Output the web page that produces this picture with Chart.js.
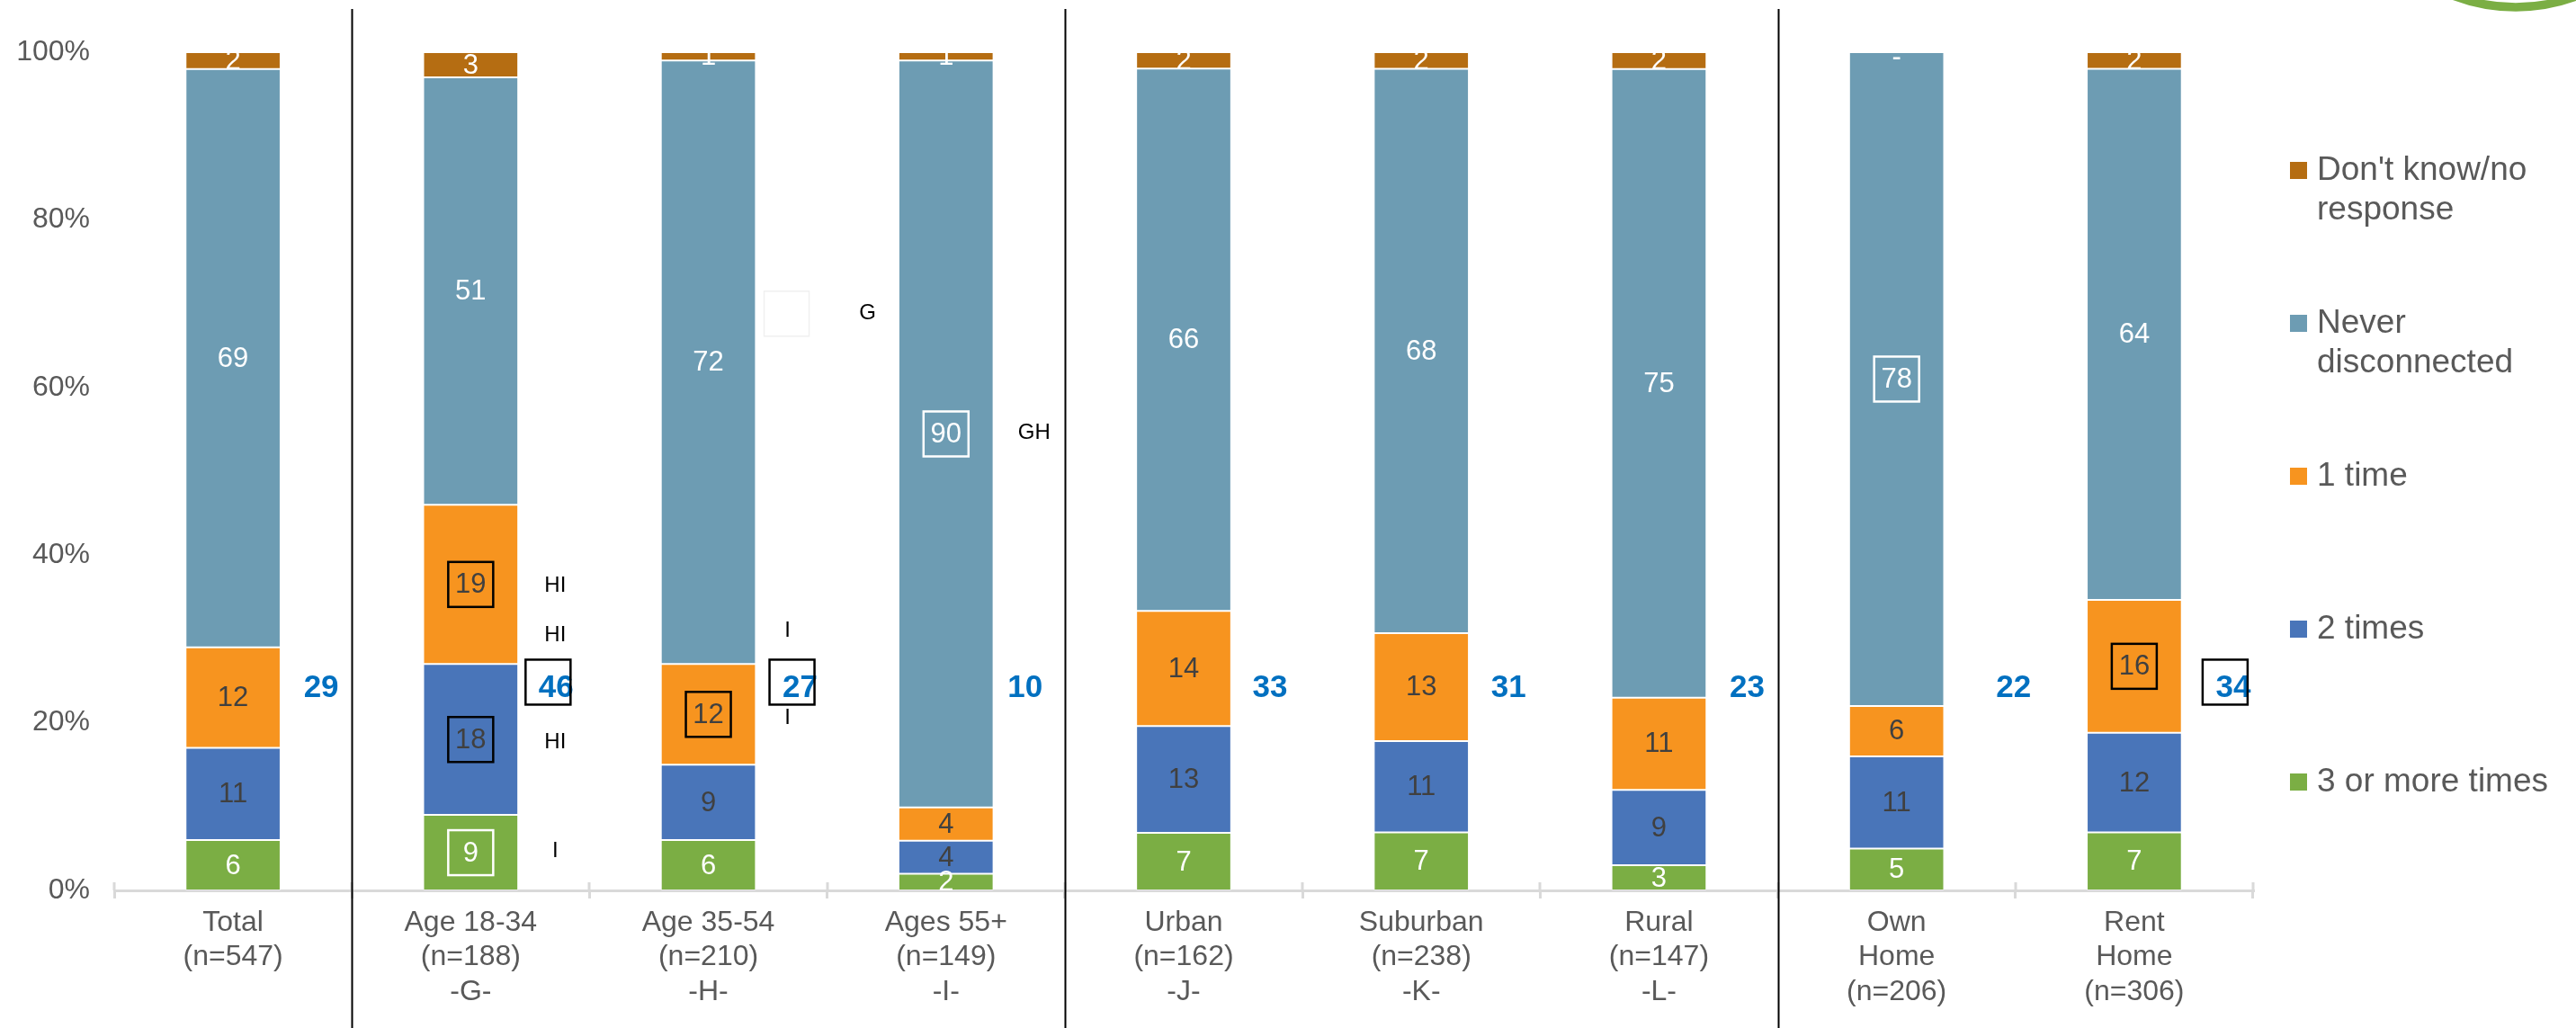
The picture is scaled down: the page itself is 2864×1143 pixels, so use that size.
<!DOCTYPE html>
<html>
<head>
<meta charset="utf-8">
<title>Times disconnected</title>
<script src="https://cdn.jsdelivr.net/npm/chart.js@4.4.1/dist/chart.umd.min.js"></script>
<style>
  html, body { margin: 0; padding: 0; background: #ffffff; }
  canvas { display: block; }
</style>
</head>
<body>
<canvas id="chart" width="2864" height="1143"></canvas>
<script>
// ---- data ---------------------------------------------------------------
const categories = [
  ["Total", "(n=547)"],
  ["Age 18-34", "(n=188)", "-G-"],
  ["Age 35-54", "(n=210)", "-H-"],
  ["Ages 55+", "(n=149)", "-I-"],
  ["Urban", "(n=162)", "-J-"],
  ["Suburban", "(n=238)", "-K-"],
  ["Rural", "(n=147)", "-L-"],
  ["Own", "Home", "(n=206)"],
  ["Rent", "Home", "(n=306)"]
];
const threeOrMore  = [6, 9, 6, 2, 7, 7, 3, 5, 7];
const twoTimes     = [11, 18, 9, 4, 13, 11, 9, 11, 12];
const oneTime      = [12, 19, 12, 4, 14, 13, 11, 6, 16];
const neverDisc    = [69, 51, 72, 90, 66, 68, 75, 78, 64];
const dontKnow     = [2, 3, 1, 1, 2, 2, 2, 0, 2];
const netDisconnected = [29, 46, 27, 10, 33, 31, 23, 22, 34];
const yTicks = [0, 20, 40, 60, 80, 100];

// series, bottom of the stack first
const seriesNames = ["3 or more times", "2 times", "1 time", "Never disconnected", "Don't know/no response"];
const seriesValues = [threeOrMore, twoTimes, oneTime, neverDisc, dontKnow];

// significance markers
const boxedValues = [[1, 2], [1, 1], [1, 0], [2, 2], [3, 3], [7, 3], [8, 2]];   // [category, series]
const boxedNets = [1, 2, 8];
const sigLetters = [                                                               // [category, text, level %]
  [1, "HI", 36.3], [1, "HI", 30.4], [1, "HI", 17.7], [1, "I", 4.7],
  [2, "I", 31.0], [2, "I", 20.6], [2, "G", 68.8], [3, "GH", 54.6]
];

// ---- styling ------------------------------------------------------------
const FONT = '"Liberation Sans", Arial, Helvetica, sans-serif';
const seriesColors = ["#7bae44", "#4975b9", "#f7941f", "#6d9cb3", "#b56d12"];
const labelColors  = ["#ffffff", "#404040", "#404040", "#ffffff", "#ffffff"];
const boxColors    = ["#ffffff", "#000000", "#000000", "#ffffff", "#ffffff"];
const legendOrder  = [4, 3, 2, 1, 0];
const legendLines  = { 4: ["Don't know/no", "response"], 3: ["Never", "disconnected"] };
const netOffsets   = [98, 95, 102, 88, 96, 97, 98, 130, 110];
const netLevel     = 24.2;
const letterOffsets = { 1: 94, 2: 88, 3: 98 };
const letterOffsetG = 177;
const separatorsAfter = [0, 3, 6];

// each column is a 100% stack
const rowTotals = categories.map((_, i) => seriesValues.reduce((s, arr) => s + arr[i], 0));
const datasets = seriesValues.map((vals, d) => ({
  label: seriesNames[d],
  data: vals.map((v, i) => v / rowTotals[i] * 100),
  backgroundColor: seriesColors[d],
  borderColor: "rgba(255,255,255,0.35)",
  borderWidth: 1,
  borderSkipped: false,
  barPercentage: 0.8,
  categoryPercentage: 0.5
}));

// ---- drawing helpers ---------------------------------------------------
const overlay = {
  id: "overlay",
  afterDatasetsDraw(chart) {
    const { ctx, scales: { x, y } } = chart;
    ctx.save();
    ctx.textAlign = "center";
    ctx.textBaseline = "middle";

    // segment values
    ctx.font = "31px " + FONT;
    const centers = {};
    seriesValues.forEach((vals, d) => {
      const meta = chart.getDatasetMeta(d);
      vals.forEach((v, i) => {
        const el = meta.data[i];
        let cy, txt;
        if (v === 0) { cy = el.y + 5; txt = "-"; }
        else { cy = (el.y + el.base) / 2; txt = String(v); }
        centers[i + ":" + d] = [el.x, cy];
        ctx.fillStyle = labelColors[d];
        ctx.fillText(txt, el.x, cy + 1);
      });
    });

    // boxes around significant values
    ctx.lineWidth = 2.5;
    boxedValues.forEach(([i, d]) => {
      const [cx, cy] = centers[i + ":" + d];
      ctx.strokeStyle = boxColors[d];
      ctx.strokeRect(cx - 25, cy - 25, 50, 50);
    });

    // net disconnected totals
    ctx.font = "bold 35px " + FONT;
    ctx.fillStyle = "#0070c0";
    const ny = y.getPixelForValue(netLevel);
    netDisconnected.forEach((v, i) => {
      const nx = x.getPixelForValue(i) + netOffsets[i];
      ctx.fillText(String(v), nx, ny + 1);
      if (boxedNets.includes(i)) {
        ctx.strokeStyle = "#000000";
        ctx.strokeRect(nx - 34, ny - 31, 50, 50);
      }
    });

    // faint placeholder box
    ctx.strokeStyle = "#f0f0f0";
    ctx.lineWidth = 1.5;
    ctx.strokeRect(x.getPixelForValue(2) + 62, y.getPixelForValue(68.8) - 25, 50, 50);

    // significance letters
    ctx.font = "24px " + FONT;
    ctx.fillStyle = "#000000";
    sigLetters.forEach(([i, t, lvl]) => {
      const off = t === "G" ? letterOffsetG : letterOffsets[i];
      ctx.fillText(t, x.getPixelForValue(i) + off, y.getPixelForValue(lvl));
    });
    ctx.restore();
  },
  afterDraw(chart) {
    const { ctx, scales: { x }, chartArea } = chart;
    ctx.save();
    // cross tick marks rising above the category axis
    ctx.strokeStyle = "#d9d9d9";
    ctx.lineWidth = 3;
    const step = (chartArea.right - chartArea.left) / categories.length;
    for (let k = 0; k <= categories.length; k++) {
      const tx = Math.round(chartArea.left + k * step);
      ctx.beginPath();
      ctx.moveTo(tx, chartArea.bottom);
      ctx.lineTo(tx, chartArea.bottom - 9);
      ctx.stroke();
    }
    // group separators
    ctx.strokeStyle = "#000000";
    ctx.lineWidth = 2;
    separatorsAfter.forEach(i => {
      const sx = Math.round((x.getPixelForValue(i) + x.getPixelForValue(i + 1)) / 2) + 0.5;
      ctx.beginPath();
      ctx.moveTo(sx, 10);
      ctx.lineTo(sx, chart.height);
      ctx.stroke();
    });

    // legend
    ctx.textAlign = "left";
    ctx.textBaseline = "middle";
    ctx.font = "37px " + FONT;
    const lx = chartArea.right + 41;
    legendOrder.forEach((d, k) => {
      const cy = 189 + k * 170;
      ctx.fillStyle = seriesColors[d];
      ctx.fillRect(lx, cy - 9, 19, 19);
      ctx.fillStyle = "#595959";
      const lines = legendLines[d] || [seriesNames[d]];
      lines.forEach((ln, j) => ctx.fillText(ln, lx + 30, cy + 1 + j * 44));
    });

    // corner emblem ring
    ctx.strokeStyle = "#7bae44";
    ctx.lineWidth = 9.5;
    ctx.beginPath();
    ctx.arc(2797, -186, 194, 0, Math.PI);
    ctx.stroke();
    ctx.restore();
  }
};

new Chart(document.getElementById("chart"), {
  type: "bar",
  data: { labels: categories, datasets },
  plugins: [overlay],
  options: {
    responsive: false,
    animation: false,
    devicePixelRatio: 1,
    layout: { padding: { top: 58, right: 359, left: 0, bottom: 0 } },
    plugins: { legend: { display: false }, tooltip: { enabled: false } },
    scales: {
      x: {
        stacked: true,
        grid: { display: true, drawOnChartArea: false, drawTicks: true, tickLength: 9, color: "#d9d9d9", lineWidth: 3, offset: true },
        border: { display: true, color: "#d9d9d9", width: 3 },
        ticks: { color: "#595959", font: { family: FONT, size: 32, lineHeight: 1.2 }, padding: 8, maxRotation: 0, autoSkip: false },
        afterFit(s) { s.height = 153; }
      },
      y: {
        stacked: true,
        min: 0,
        max: 100,
        grid: { display: false, drawTicks: false },
        border: { display: false },
        afterBuildTicks(s) { s.ticks = yTicks.map(v => ({ value: v })); },
        ticks: { color: "#595959", font: { family: FONT, size: 32 }, padding: 27, callback: v => v + "%" },
        afterFit(s) { s.width = 127; }
      }
    }
  }
});
</script>
</body>
</html>
